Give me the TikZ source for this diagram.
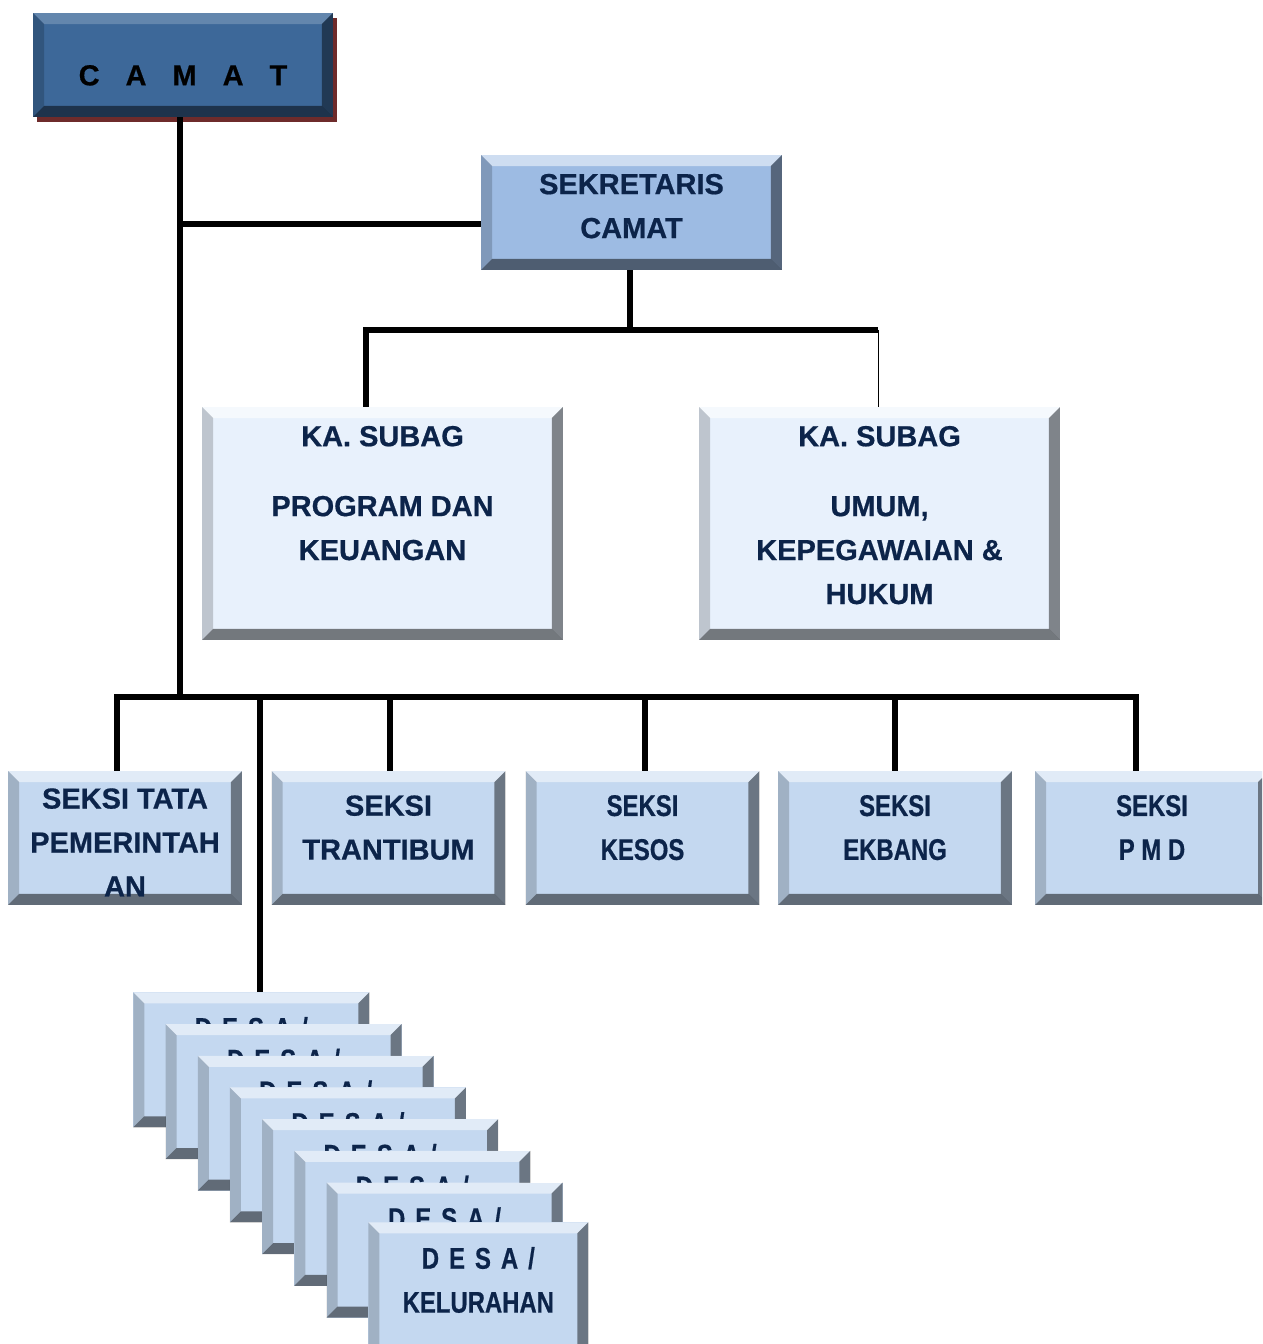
\documentclass[tikz,border=0pt]{standalone}
\usepackage{fontspec}
\setmainfont{Liberation Sans}[BoldFeatures={FakeBold=0.6}]
\newfontfamily\narrowfont[FakeStretch=0.8, BoldFeatures={FakeBold=0.6}]{Liberation Sans}
\usetikzlibrary{shadows}

\definecolor{camatblue}{HTML}{3D6899}
\definecolor{shadowred}{HTML}{6E2B2B}
\definecolor{sekblue}{HTML}{9DBBE3}
\definecolor{subagblue}{HTML}{E8F1FC}
\definecolor{seksiblue}{HTML}{C4D8F0}
\definecolor{navytext}{HTML}{0C244A}

\newcommand{\bw}{0.22cm}
\newcommand{\boxfont}{\fontsize{16.5pt}{25pt}\selectfont\bfseries}
\newcommand{\narrowbox}{\fontsize{17pt}{25pt}\selectfont\narrowfont\bfseries}
% strut below the last line, lifts the text a bit
\newcommand{\lift}[1]{\rule[-#1]{0pt}{#1}}

\tikzset{
  bevel/.style={path picture={
    \coordinate (bnw) at (path picture bounding box.north west);
    \coordinate (bne) at (path picture bounding box.north east);
    \coordinate (bsw) at (path picture bounding box.south west);
    \coordinate (bse) at (path picture bounding box.south east);
    \fill[white,opacity=#1] (bnw) -- (bne) -- ([shift={(-\bw,-\bw)}]bne) -- ([shift={(\bw,-\bw)}]bnw) -- cycle;
    \fill[black,opacity=.18] (bnw) -- ([shift={(\bw,-\bw)}]bnw) -- ([shift={(\bw,\bw)}]bsw) -- (bsw) -- cycle;
    \fill[black,opacity=.45] (bne) -- (bse) -- ([shift={(-\bw,\bw)}]bse) -- ([shift={(-\bw,-\bw)}]bne) -- cycle;
    \fill[black,opacity=.5] (bsw) -- ([shift={(\bw,\bw)}]bsw) -- ([shift={(-\bw,\bw)}]bse) -- (bse) -- cycle;
  }},
  bevel/.default=.5,
  orgbox/.style={rectangle, inner sep=0pt, align=center, font=\boxfont, text=navytext},
  camatbox/.style={orgbox, fill=camatblue, text=black, minimum width=6cm, minimum height=2.08cm,
    drop shadow={fill=shadowred, opacity=1, shadow xshift=0.08cm, shadow yshift=-0.1cm}, bevel=.2},
  sekbox/.style={orgbox, fill=sekblue, minimum width=6.02cm, minimum height=2.3cm, bevel},
  subagbox/.style={orgbox, fill=subagblue, minimum width=7.22cm, minimum height=4.66cm, bevel=.6},
  seksibox/.style={orgbox, fill=seksiblue, minimum width=4.68cm, minimum height=2.68cm, bevel},
  desabox/.style={orgbox, fill=seksiblue, font=\narrowbox, minimum width=4.72cm, minimum height=2.7cm, anchor=north west, bevel},
  conn/.style={line width=0.12cm},
}

\begin{document}
\begin{tikzpicture}[x=0.02cm, y=-0.02cm]
\useasboundingbox (0,0) rectangle (1262,1344);
\clip (0,0) rectangle (1262,1344);

% pimpinan
\node[camatbox] (camat) at (183,65) {\rule{0pt}{0.82cm}C\hspace{.52cm}A\hspace{.52cm}M\hspace{.52cm}A\hspace{.52cm}T};
\node[sekbox] (sek) at (631.5,212.5) {SEKRETARIS\\CAMAT\lift{0.26cm}};

% sub bagian
\node[subagbox] (subag1) at (382.5,523.5) {KA. SUBAG\\[0.52cm]PROGRAM DAN\\KEUANGAN\lift{1.22cm}};
\node[subagbox] (subag2) at (879.5,523.5) {KA. SUBAG\\[0.52cm]UMUM,\\KEPEGAWAIAN \&\\HUKUM\lift{0.34cm}};

% seksi
\node[seksibox] (s1) at (125,838) {\rule{0pt}{0.58cm}SEKSI TATA\\PEMERINTAH\\AN};
\node[seksibox] (s2) at (388.5,838) {SEKSI\\TRANTIBUM\lift{0.42cm}};
\node[seksibox, font=\narrowbox] (s3) at (642.5,838) {SEKSI\\KESOS\lift{0.42cm}};
\node[seksibox, font=\narrowbox] (s4) at (895,838) {SEKSI\\EKBANG\lift{0.42cm}};
\node[seksibox, font=\narrowbox] (s5) at (1152,838) {SEKSI\\P M D\lift{0.42cm}};

% desa / kelurahan
\foreach \i in {1,...,7}
  \node[desabox] (d\i) at ({133+32.2*(\i-1)},{992+31.7*(\i-1)})
    {D\hspace{.2cm}E\hspace{.2cm}S\hspace{.2cm}A\hspace{.2cm}/\\KELURAHAN\lift{0.4cm}};
\node[desabox, minimum width=4.4cm] (d8) at (368,1222)
  {D\hspace{.2cm}E\hspace{.2cm}S\hspace{.2cm}A\hspace{.2cm}/\\KELURAHAN\lift{0.4cm}};

% garis
\coordinate (bl) at (117,697);
\coordinate (br) at (1136,697);
\coordinate (bar1) at (366,330);
\coordinate (bar2) at (878,330);
\draw[conn] (camat.south -| 180,0) -- (180,697);
\draw[conn] (180,224) -- (sek.west |- 0,224);
\draw[conn] (sek.south -| 630,0) -- (630,330);
\draw[conn] (bar1 |- subag1.north) -- (bar1) -- (bar2);
\draw[line width=0.02cm] (bar2) -- (bar2 |- subag2.north);
\draw[conn] (s1.north -| bl) -- (bl) -- (br) -- (s5.north -| br);
\foreach \n/\x in {s2/390, s3/645, s4/895}
  \draw[conn] (\x,697) -- (\x,0 |- \n.north);
\draw[conn] (260,697) -- (260,0 |- d1.north);
\end{tikzpicture}
\end{document}
